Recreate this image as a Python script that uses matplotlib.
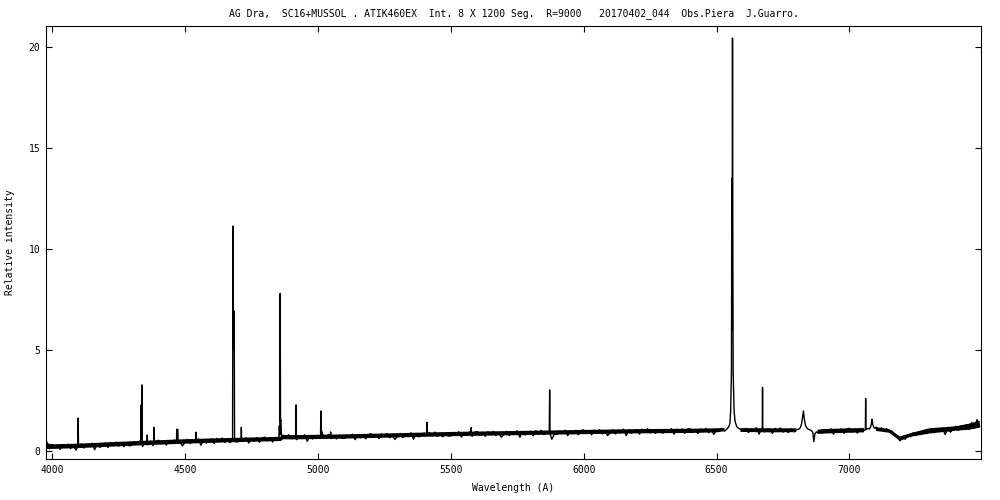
"""AG Dra spectrum (SC16 + MUSSOL), gnuplot-style replot."""

import numpy as np
import matplotlib
matplotlib.use("Agg")
import matplotlib.pyplot as plt

# ---------------------------------------------------------------------------
# Data
# ---------------------------------------------------------------------------

TITLE = ("AG Dra,  SC16+MUSSOL . ATIK460EX  Int. 8 X 1200 Seg.  R=9000   "
         "20170402_044  Obs.Piera  J.Guarro.")

# continuum, one value per 10 A from 3980 to 7490
cont_wave = np.arange(3980, 7500, 10)
cont_flux = np.array([
    0.45, 0.10,
    0.32, 0.14, 0.28, 0.08, 0.31, 0.17, 0.33, 0.12, 0.26, 0.04,  # 4000
    0.20, 0.35, 0.14, 0.33, 0.22, 0.38, 0.06, 0.34, 0.17, 0.31,  # 4100
    0.39, 0.17, 0.42, 0.26, 0.44, 0.23, 0.37, 0.21, 0.40, 0.25,  # 4200
    0.28, 0.44, 0.33, 0.49, 0.22, 0.46, 0.31, 0.48, 0.26, 0.47,  # 4300
    0.53, 0.35, 0.49, 0.29, 0.52, 0.38, 0.54, 0.33, 0.47, 0.25,  # 4400
    0.42, 0.57, 0.36, 0.55, 0.44, 0.60, 0.28, 0.56, 0.39, 0.53,  # 4500
    0.59, 0.37, 0.62, 0.46, 0.64, 0.43, 0.57, 0.41, 0.60, 0.45,  # 4600
    0.45, 0.61, 0.50, 0.66, 0.39, 0.63, 0.48, 0.65, 0.43, 0.64,  # 4700
    0.68, 0.50, 0.64, 0.44, 0.67, 0.53, 0.69, 0.78, 0.66, 0.80,  # 4800
    0.62, 0.77, 0.56, 0.75, 0.64, 0.80, 0.48, 0.76, 0.59, 0.73,  # 4900
    0.77, 0.55, 0.80, 0.64, 0.82, 0.61, 0.75, 0.59, 0.78, 0.63,  # 5000
    0.62, 0.78, 0.67, 0.83, 0.56, 0.80, 0.65, 0.82, 0.60, 0.81,  # 5100
    0.85, 0.67, 0.81, 0.61, 0.84, 0.70, 0.86, 0.65, 0.79, 0.57,  # 5200
    0.72, 0.87, 0.66, 0.85, 0.74, 0.90, 0.58, 0.86, 0.69, 0.83,  # 5300
    0.88, 0.66, 0.91, 0.75, 0.93, 0.72, 0.86, 0.70, 0.89, 0.74,  # 5400
    0.74, 0.90, 0.79, 0.95, 0.68, 0.92, 0.77, 0.94, 0.72, 0.93,  # 5500
    0.96, 0.78, 0.92, 0.72, 0.95, 0.81, 0.97, 0.76, 0.90, 0.68,  # 5600
    0.82, 0.97, 0.76, 0.95, 0.84, 1.00, 0.68, 0.96, 0.79, 0.93,  # 5700
    0.97, 0.75, 1.00, 0.84, 1.02, 0.81, 0.95, 0.90, 0.58, 0.83,  # 5800
    0.82, 0.98, 0.87, 1.03, 0.76, 1.00, 0.85, 1.02, 0.80, 1.01,  # 5900
    1.04, 0.86, 1.00, 0.80, 1.03, 0.89, 1.05, 0.84, 0.98, 0.76,  # 6000
    0.90, 1.05, 0.84, 1.03, 0.92, 1.08, 0.76, 1.04, 0.87, 1.01,  # 6100
    1.05, 0.83, 1.08, 0.92, 1.10, 0.89, 1.03, 0.87, 1.06, 0.91,  # 6200
    0.89, 1.05, 0.94, 1.10, 0.83, 1.07, 0.92, 1.09, 0.87, 1.08,  # 6300
    1.10, 0.92, 1.06, 0.86, 1.09, 0.95, 1.11, 0.90, 1.04, 0.82,  # 6400
    1.08, 0.96, 1.12, 0.98, 1.10, 1.15, 1.20, 1.25, 1.12, 1.08,  # 6500
    0.97, 1.12, 0.91, 1.10, 0.99, 1.15, 0.83, 1.11, 0.94, 1.08,  # 6600
    1.09, 0.87, 1.12, 0.96, 1.14, 0.93, 1.07, 0.91, 1.10, 0.95,  # 6700
    1.06, 1.10, 1.60, 1.55, 1.10, 1.02, 0.50, 0.88, 0.95, 0.90,  # 6800
    0.89, 1.05, 0.94, 1.10, 0.83, 1.07, 0.92, 1.09, 0.87, 1.08,  # 6900
    1.12, 0.94, 1.08, 0.88, 1.11, 0.97, 1.10, 1.12, 1.50, 1.20,  # 7000
    1.18, 1.02, 1.14, 1.00, 1.10, 0.94, 0.98, 0.80, 0.72, 0.50,  # 7100
    0.68, 0.58, 0.80, 0.70, 0.90, 0.76, 0.95, 0.82, 0.98, 0.86,  # 7200
    0.96, 1.11, 0.90, 1.09, 0.98, 1.14, 0.82, 1.10, 0.93, 1.07,  # 7300
    1.22, 1.02, 1.24, 1.08, 1.30, 1.06, 1.40, 1.14, 1.55, 1.22,  # 7400
])

# edges of the dense noise band around the continuum (nan = no band)
band_wave = [3980, 4000, 4100, 4200, 4300, 4400, 4500, 4600, 4700, 4800,
             4860, 4870, 4900, 5000, 5100, 5200, 5300, 5400, 5500, 5600,
             5700, 5800, 5900, 6000, 6100, 6200, 6300, 6400, 6500, 6530,
             6560, 6590, 6700, 6800, 6840, 6880, 6900, 7000, 7055, 7080,
             7100, 7150, 7190, 7230, 7300, 7400, 7450, 7490]
band_low = [0.10, 0.10, 0.14, 0.20, 0.26, 0.31, 0.36, 0.40, 0.44, 0.47,
            0.49, 0.58, 0.57, 0.59, 0.61, 0.64, 0.67, 0.70, 0.73, 0.75,
            0.77, 0.79, 0.81, 0.83, 0.85, 0.87, 0.88, 0.89, 0.92, 0.98,
            np.nan, 0.94, 0.92, 0.93, np.nan, 0.85, 0.86, 0.90, 0.92, np.nan,
            0.99, 0.90, 0.50, 0.70, 0.86, 1.00, 1.05, 1.15]
band_high = [0.38, 0.33, 0.36, 0.42, 0.48, 0.53, 0.58, 0.62, 0.65, 0.68,
             0.70, 0.79, 0.78, 0.80, 0.82, 0.85, 0.88, 0.91, 0.94, 0.96,
             0.98, 1.00, 1.02, 1.04, 1.06, 1.08, 1.09, 1.10, 1.12, 1.14,
             np.nan, 1.13, 1.12, 1.12, np.nan, 1.05, 1.08, 1.12, 1.13, np.nan,
             1.18, 1.08, 0.72, 0.88, 1.12, 1.22, 1.35, 1.50]

# emission / absorption features: (wavelengths, intensities)
features = [
    ([4096.5, 4098, 4099.5], [0.25, 1.63, 0.22]),                       # H delta
    ([4333, 4335, 4336, 4337.5, 4339], [0.38, 2.28, 0.60, 3.27, 0.33]),  # H gamma
    ([4357, 4358, 4359], [0.35, 0.79, 0.30]),
    ([4383, 4384, 4385], [0.40, 1.17, 0.36]),                           # He I 4388
    ([4468, 4469, 4473, 4474], [0.45, 1.07, 1.07, 0.42]),               # He I 4471
    ([4540, 4541, 4542], [0.50, 0.93, 0.45]),                           # He II 4541
    ([4679, 4680.5, 4682, 4683.5, 4685, 4686.5],
     [0.56, 11.14, 5.00, 6.93, 6.93, 0.56]),                             # He II 4686
    ([4711, 4712, 4713], [0.58, 1.17, 0.55]),                           # He I 4713
    ([4853, 4855, 4856.5, 4858, 4859.5, 4861, 4863],
     [0.60, 1.24, 0.80, 7.80, 1.50, 1.53, 0.70]),                        # H beta
    ([4917, 4918, 4919], [0.70, 2.28, 0.65]),                           # He I 4922
    ([5010, 5011, 5012, 5014, 5015, 5016],
     [0.72, 1.98, 0.70, 0.72, 0.95, 0.68]),                              # He I 5016
    ([5047, 5048, 5049], [0.72, 0.94, 0.70]),
    ([5409, 5410, 5411, 5412, 5413], [0.82, 1.42, 1.00, 1.00, 0.80]),   # He II 5411
    ([5576, 5577, 5578], [0.85, 1.15, 0.84]),
    ([5870.5, 5872, 5873.5], [0.90, 3.02, 0.85]),                       # He I 5876
    ([6540, 6546, 6550, 6553, 6556, 6557.5, 6558.5, 6560, 6561,
      6562.5, 6566, 6570, 6576, 6585],
     [1.10, 1.20, 1.35, 1.95, 3.90, 13.50, 6.00, 20.45, 12.00,
      3.90, 1.95, 1.45, 1.20, 1.10]),                                    # H alpha
    ([6672, 6673, 6674], [1.04, 3.15, 1.02]),                           # He I 6678
    ([6800, 6810, 6815, 6820, 6824, 6827, 6830, 6835, 6842, 6850,
      6858, 6862, 6866, 6870, 6876, 6880],
     [1.05, 1.08, 1.15, 1.35, 1.70, 1.98, 1.60, 1.25, 1.10, 1.05,
      1.00, 0.92, 0.46, 0.85, 0.95, 0.90]),                              # Raman 6825
    ([7060, 7061, 7062], [1.06, 2.60, 1.05]),                           # He I 7065
    ([7075, 7080, 7083, 7085, 7088, 7092, 7098],
     [1.08, 1.20, 1.40, 1.57, 1.30, 1.15, 1.12]),                        # Raman 7082
]


def build_spectrum():
    keep = np.ones(len(cont_wave), dtype=bool)
    for w, _ in features:
        keep &= ~((cont_wave >= min(w)) & (cont_wave <= max(w)))
    wave = list(cont_wave[keep])
    flux = list(cont_flux[keep])
    for w, f in features:
        wave.extend(w)
        flux.extend(f)
    order = np.argsort(wave, kind="stable")
    return np.asarray(wave)[order], np.asarray(flux)[order]


# ---------------------------------------------------------------------------
# Figure
# ---------------------------------------------------------------------------

plt.rcParams.update({
    "font.family": "DejaVu Sans Mono",
    "font.size": 7,
    "axes.linewidth": 0.8,
})

wave, flux = build_spectrum()

fig = plt.figure(figsize=(10, 5), dpi=100)
ax = fig.add_axes([0.046, 0.082, 0.935, 0.866])
ax.fill_between(band_wave, band_low, band_high, color="black", linewidth=0)
ax.plot(wave, flux, color="black", linewidth=1.0)

ax.set_xlim(3977, 7495)
ax.set_ylim(-0.4, 21.05)
ax.set_xticks([4000, 4500, 5000, 5500, 6000, 6500, 7000])
ax.set_yticks([0, 5, 10, 15, 20])
ax.tick_params(direction="in", length=4, width=0.8, top=True, right=True,
               labelsize=7, pad=4)

ax.set_title(TITLE, fontsize=7, pad=7)
ax.set_xlabel("Wavelength (A)", fontsize=7, labelpad=6)
ax.set_ylabel("Relative intensity", fontsize=7, labelpad=10)

fig.savefig("out.png", dpi=100)
